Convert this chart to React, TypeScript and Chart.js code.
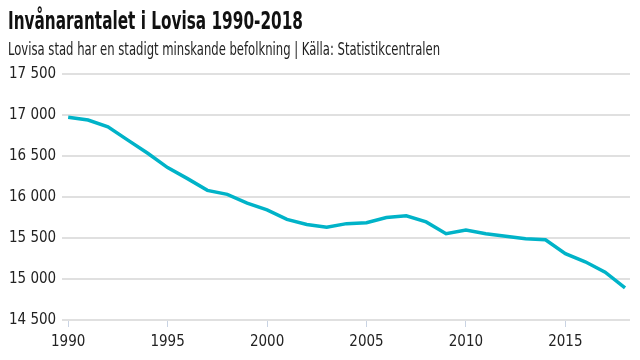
import React, { useEffect, useRef } from "react";
import { Chart, registerables } from "chart.js";

Chart.register(...registerables);

const years: number[] = [
  1990, 1991, 1992, 1993, 1994, 1995, 1996, 1997, 1998, 1999,
  2000, 2001, 2002, 2003, 2004, 2005, 2006, 2007, 2008, 2009,
  2010, 2011, 2012, 2013, 2014, 2015, 2016, 2017, 2018,
];
const population: number[] = [
  16972, 16939, 16857, 16694, 16534, 16359, 16224, 16081, 16032, 15926,
  15843, 15727, 15665, 15630, 15675, 15687, 15749, 15770, 15696, 15553,
  15598, 15553, 15521, 15491, 15479, 15308, 15210, 15083, 14891,
];
const xTicks: number[] = [1990, 1995, 2000, 2005, 2010, 2015];
const yTicks: number[] = [14500, 15000, 15500, 16000, 16500, 17000, 17500];

const titleText = "Invånarantalet i Lovisa 1990-2018";
const subtitleText = "Lovisa stad har en stadigt minskande befolkning | Källa: Statistikcentralen";

const FONT = "'DejaVu Sans Condensed', 'Liberation Sans Narrow', sans-serif";

export default function App() {
  const ref = useRef<HTMLCanvasElement | null>(null);

  useEffect(() => {
    document.body.style.margin = "0";
    const canvas = ref.current;
    if (!canvas) return;
    const chart = new Chart(canvas, {
      type: "line",
      data: {
        datasets: [
          {
            data: years.map((y, i) => ({ x: y, y: population[i] })),
            borderColor: "#00b3c8",
            borderWidth: 3.5,
            pointRadius: 0,
            tension: 0,
            fill: false,
          },
        ],
      },
      options: {
        animation: false,
        responsive: false,
        maintainAspectRatio: false,
        layout: { padding: { left: 3, right: 10, top: 74, bottom: 3 } },
        plugins: {
          legend: { display: false },
          tooltip: { enabled: false },
        },
        scales: {
          x: {
            type: "linear",
            min: 1989.7,
            max: 2018.25,
            afterBuildTicks: (scale: any) => {
              scale.ticks = xTicks.map((v) => ({ value: v }));
            },
            grid: {
              drawOnChartArea: false,
              drawTicks: true,
              tickLength: 7,
              color: "#c9d3e3",
            },
            border: { display: false },
            ticks: {
              color: "#222",
              font: { family: FONT, size: 15 },
              padding: 6,
              maxRotation: 0,
              callback: (v: any) => String(v),
            },
          },
          y: {
            min: 14500,
            max: 17500,
            afterBuildTicks: (scale: any) => {
              scale.ticks = yTicks.map((v) => ({ value: v }));
            },
            grid: {
              color: "#e0e0e0",
              lineWidth: 2,
              drawTicks: false,
            },
            border: { display: false },
            ticks: {
              color: "#222",
              font: { family: FONT, size: 15 },
              padding: 6,
              callback: (v: any) =>
                String(v).replace(/\B(?=(\d{3})+(?!\d))/g, " "),
            },
          },
        },
      },
    });
    return () => chart.destroy();
  }, []);

  return (
    <div style={{ position: "relative", width: 640, height: 360, overflow: "hidden" }}>
      <canvas
        ref={ref}
        width={640}
        height={360}
        style={{ display: "block", position: "absolute", left: 0, top: 0 }}
      />
      <div
        style={{
          position: "absolute",
          left: 8,
          top: 6,
          whiteSpace: "nowrap",
          fontFamily: FONT,
          fontWeight: "bold",
          fontSize: 25,
          lineHeight: "30px",
          color: "#111",
          transform: "scaleX(0.68)",
          transformOrigin: "left top",
        }}
      >
        {titleText}
      </div>
      <div
        style={{
          position: "absolute",
          left: 8,
          top: 38,
          whiteSpace: "nowrap",
          fontFamily: FONT,
          fontSize: 17,
          lineHeight: "22px",
          color: "#222",
          transform: "scaleX(0.76)",
          transformOrigin: "left top",
        }}
      >
        {subtitleText}
      </div>
    </div>
  );
}
